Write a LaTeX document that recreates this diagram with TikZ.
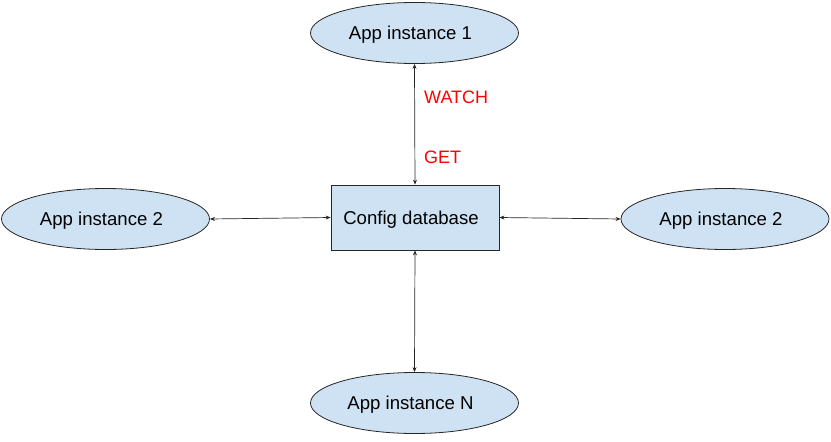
\documentclass[tikz,border=0pt]{standalone}
\usepackage{fontspec}
\setmainfont{Liberation Sans}
\usetikzlibrary{arrows.meta,shapes.geometric}
\definecolor{boxblue}{RGB}{207,226,243}
\definecolor{lblred}{RGB}{255,0,0}
\begin{document}
\begin{tikzpicture}[x=1pt,y=-1pt,
  txt/.style={font=\fontsize{18.6}{20}\selectfont,inner sep=0pt},
  app/.style={ellipse,draw=black!85,line width=0.8pt,fill=boxblue,minimum width=208pt,minimum height=61pt,inner sep=0pt},
  db/.style={rectangle,draw=black!85,line width=0.8pt,fill=boxblue,minimum width=168pt,minimum height=65pt,inner sep=0pt},
  inside/.style={label={[txt,xshift=-4pt,yshift=-2pt]center:#1}},
  link/.style={line width=0.7pt,draw=black!85,{Stealth[length=5pt,width=4pt]}-{Stealth[length=5pt,width=4pt]}},
  lbl/.style={text=lblred,font=\fontsize{18}{20}\selectfont,anchor=west,inner sep=0pt}]
\useasboundingbox (0,0) rectangle (831,442);
\node[db,inside={Config database}] (db) at (415,217.5) {};
\node[app,inside={App instance 1}] (top) at (414.5,33) {};
\node[app,inside={App instance 2}] (left) at (105.5,219) {};
\node[app,inside={App instance 2}] (right) at (725,219) {};
\node[app,inside={App instance N}] (bot) at (414.5,403) {};
\draw[link] (top.south) -- (db.north);
\draw[link] (db.south) -- (bot.north);
\draw[link] (left.east) -- (db.west);
\draw[link] (db.east) -- (right.west);
\node[lbl] (watch) at (424,97) {WATCH};
\node[lbl] (get) at (424,157) {GET};
\end{tikzpicture}
\end{document}
